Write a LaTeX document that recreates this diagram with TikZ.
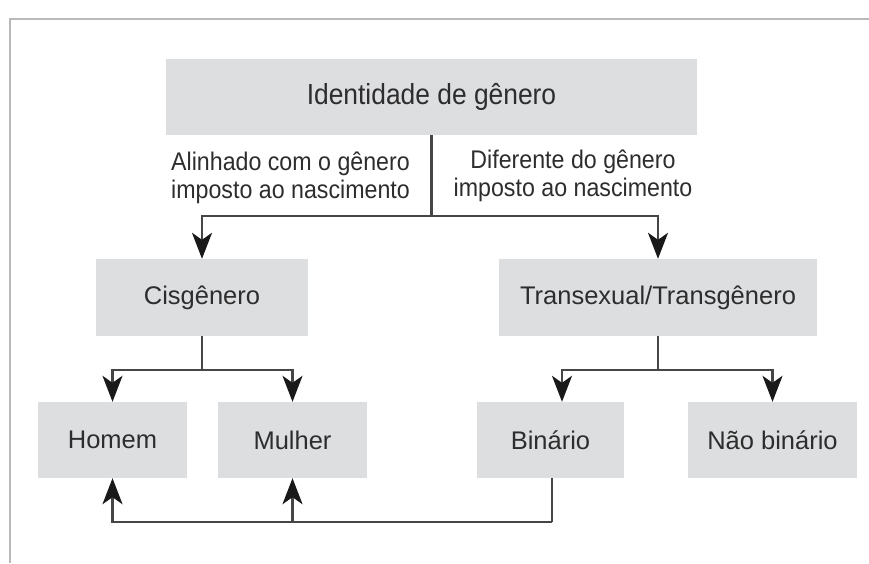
\documentclass[tikz,border=0pt]{standalone}
\usepackage{fontspec}
\setmainfont{Liberation Sans}
\newfontfamily\condfont[FakeStretch=0.91]{Liberation Sans}
\usetikzlibrary{arrows.meta}
\definecolor{boxgray}{RGB}{221,222,224}
\definecolor{txtgray}{RGB}{45,45,45}
\definecolor{linegray}{RGB}{70,70,70}
\definecolor{framegray}{RGB}{185,185,185}
\tikzset{
  gbox/.style={fill=boxgray, draw=none, inner sep=0pt, text=txtgray, font=\fontsize{25.5}{30}\selectfont},
  lbl/.style={align=center, inner sep=0pt, text=txtgray, font=\condfont\fontsize{25.5}{28}\selectfont},
  conn/.style={draw=linegray, line width=2.2pt},
  arr/.style={conn, -{Stealth[length=26pt,width=20pt,inset=7pt,color=black!90]}}
}
\begin{document}
\begin{tikzpicture}[x=1pt,y=-1pt]
\useasboundingbox (0,0) rectangle (869,563);
% frame
\draw[framegray, line width=2.5pt] (869,19) -- (10,19) -- (10,563);
% nodes
\node[gbox, minimum width=531pt, minimum height=76pt, font=\condfont\fontsize{29}{34}\selectfont] (top) at (431.5,97) {Identidade de gênero};
\node[gbox, minimum width=212pt, minimum height=77pt] (cis) at (202,297.5) {Cisgênero};
\node[gbox, minimum width=318pt, minimum height=77pt] (trans) at (658,297.5) {Transexual/Transgênero};
\node[gbox, minimum width=149pt, minimum height=76pt] (homem) at (112.5,440) {Homem};
\node[gbox, minimum width=149pt, minimum height=76pt] (mulher) at (292.5,440) {Mulher};
\node[gbox, minimum width=147pt, minimum height=76pt] (binario) at (550.5,440) {Binário};
\node[gbox, minimum width=169pt, minimum height=76pt] (nao) at (772.5,440) {Não binário};
% labels
\node[lbl] (lblA) at (290.5,178) {Alinhado com o gênero\\imposto ao nascimento};
\node[lbl] (lblB) at (573,176) {Diferente do gênero\\imposto ao nascimento};
% junctions
\coordinate (j1) at (431.5,216);
\coordinate (j2) at (202,370);
\coordinate (j3) at (658,370);
\coordinate (j4) at (552,522);
% connectors
\draw[conn] (top.south) -- (j1);
\draw[arr] (j1) -| (cis.north);
\draw[arr] (j1) -| (trans.north);
\draw[conn] (cis.south) -- (j2);
\draw[arr] (j2) -| (homem.north);
\draw[arr] (j2) -| (mulher.north);
\draw[conn] (trans.south) -- (j3);
\draw[arr] (j3) -| ([xshift=11.5pt]binario.north);
\draw[arr] (j3) -| (nao.north);
\draw[conn] ([xshift=1.5pt]binario.south) -- (j4);
\draw[arr] (j4) -| (homem.south);
\draw[arr] (j4) -| (mulher.south);
\end{tikzpicture}
\end{document}
